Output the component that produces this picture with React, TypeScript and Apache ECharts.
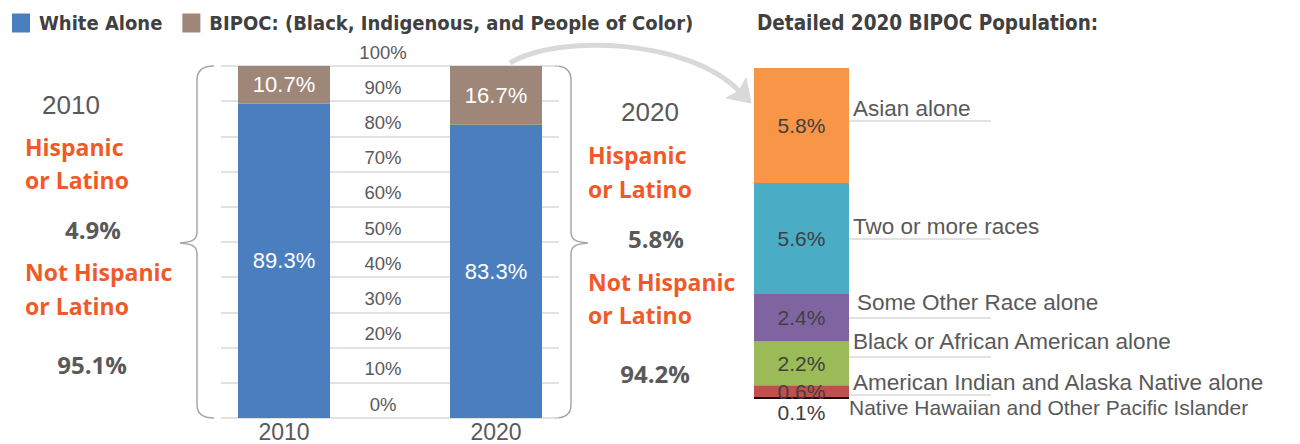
import React, { useEffect, useRef } from 'react';
import * as echarts from 'echarts';

// ---------- data ----------
const years = ['2010', '2020'];
const whiteAlone = [89.3, 83.3];
const bipoc = [10.7, 16.7];
const hispanicShare = [4.9, 5.8];
const notHispanicShare = [95.1, 94.2];

const detailCategories = [
  'Native Hawaiian and Other Pacific Islander',
  'American Indian and Alaska Native alone',
  'Black or African American alone',
  'Some Other Race alone',
  'Two or more races',
  'Asian alone',
];
const detailValues = [0.1, 0.6, 2.2, 2.4, 5.6, 5.8];
const detailTotal = 16.7;

// ---------- styles ----------
const detailColors = ['#111111', '#C0504D', '#9BBB59', '#8064A2', '#4BACC6', '#F79646'];
const BLUE = '#4A7EBF';
const BROWN = '#9E8779';
const ORANGE = '#F05A28';
const GRAY_TEXT = '#595959';
const CONDENSED = '"Liberation Sans Narrow", "DejaVu Sans Condensed", "Arial Narrow", sans-serif';
const SANS = '"Liberation Sans", Arial, sans-serif';
const BOLD_SANS = '"Open Sans", "Noto Sans", sans-serif';

echarts.graphic.registerShape(
  'leftBrace',
  echarts.graphic.extendPath(
    'M214,66 C203,66 197,70 197,80 L197,232 C197,240 192,242 180,243 C192,244 197,246 197,254 L197,405 C197,414 203,418 214,418',
    {}
  )
);
echarts.graphic.registerShape(
  'rightBrace',
  echarts.graphic.extendPath(
    'M555,66 C565,66 571,70 571,80 L571,232 C571,240 576,242 588,243 C576,244 571,246 571,254 L571,405 C571,414 565,418 555,418',
    {}
  )
);

// label placements for the detailed bar (annotation layout)
const detailLabelPos = [
  { x: 849, y: 407, size: 21, ul: null },
  { x: 853, y: 382, size: 22.5, ul: [849, 991, 395] },
  { x: 853, y: 341, size: 22.5, ul: [849, 991, 357] },
  { x: 857, y: 302, size: 22.5, ul: [849, 991, 318] },
  { x: 853, y: 226, size: 22.5, ul: [849, 991, 239] },
  { x: 853, y: 108, size: 22.5, ul: [849, 991, 121] },
];

const sideLayout = [
  { yearX: 71, yearY: 105, textX: 25, h1: 147, h2: 180, hvX: 93, hvY: 229, n1: 272, n2: 306, nvX: 92, nvY: 364 },
  { yearX: 650, yearY: 112, textX: 588, h1: 155, h2: 189, hvX: 656, hvY: 238, n1: 282, n2: 315, nvX: 655, nvY: 373 },
];

function buildGraphics() {
  const els: any[] = [];
  els.push({ type: 'leftBrace', x: 0, y: 0, silent: true, style: { stroke: '#A6A6A6', fill: null, lineWidth: 1.5 } });
  els.push({ type: 'rightBrace', x: 0, y: 0, silent: true, style: { stroke: '#A6A6A6', fill: null, lineWidth: 1.5 } });

  years.forEach((yr, i) => {
    const L = sideLayout[i];
    els.push({ type: 'text', x: L.yearX, y: L.yearY, style: { text: yr, font: `26px ${SANS}`, fill: GRAY_TEXT, align: 'center', verticalAlign: 'middle' } });
    const orange = (t: string, y: number) => ({
      type: 'text', x: L.textX, y, style: { text: t, font: `bold 23px ${BOLD_SANS}`, fill: ORANGE, align: 'left', verticalAlign: 'middle' },
    });
    els.push(orange('Hispanic', L.h1));
    els.push(orange('or Latino', L.h2));
    els.push({ type: 'text', x: L.hvX, y: L.hvY, style: { text: hispanicShare[i].toFixed(1) + '%', font: `bold 24px ${BOLD_SANS}`, fill: GRAY_TEXT, align: 'center', verticalAlign: 'middle' } });
    els.push(orange('Not Hispanic', L.n1));
    els.push(orange('or Latino', L.n2));
    els.push({ type: 'text', x: L.nvX, y: L.nvY, style: { text: notHispanicShare[i].toFixed(1) + '%', font: `bold 24px ${BOLD_SANS}`, fill: GRAY_TEXT, align: 'center', verticalAlign: 'middle' } });
  });

  // curved arrow
  els.push({
    type: 'bezierCurve', silent: true,
    shape: { x1: 510, y1: 63, cpx1: 560, cpy1: 33, cpx2: 690, cpy2: 40, x2: 739, y2: 91 },
    style: { stroke: '#D9D9D9', lineWidth: 5, fill: null },
  });
  els.push({
    type: 'polygon', silent: true,
    shape: { points: [[751, 103], [746, 78], [739, 91], [726, 98]] },
    style: { fill: '#D9D9D9', stroke: '#D9D9D9', lineWidth: 1 },
  });

  // detailed labels
  detailCategories.forEach((name, i) => {
    const p = detailLabelPos[i];
    if (p.ul) {
      els.push({ type: 'line', silent: true, shape: { x1: p.ul[0], y1: p.ul[2], x2: p.ul[1], y2: p.ul[2] }, style: { stroke: '#D9D9D9', lineWidth: 1.5 } });
    }
    els.push({ type: 'text', x: p.x, y: p.y, style: { text: name, font: `${p.size}px ${SANS}`, fill: GRAY_TEXT, align: 'left', verticalAlign: 'middle' } });
  });
  return els;
}

export default function App() {
  const ref = useRef<HTMLDivElement>(null);
  useEffect(() => {
    if (!ref.current) return;
    const chart = echarts.init(ref.current, undefined, { renderer: 'svg' });
    const detailSeries = detailCategories.map((name, i) => ({
      name,
      type: 'bar',
      stack: 'detail',
      xAxisIndex: 2,
      yAxisIndex: 2,
      barWidth: '100%',
      data: [detailValues[i]],
      itemStyle: { color: detailColors[i] },
      label: {
        show: true,
        position: i === 0 ? 'bottom' : 'inside',
        distance: 3,
        formatter: (p: any) => p.value.toFixed(1) + '%',
        color: '#404040',
        fontSize: 21,
        fontFamily: SANS,
      },
    }));
    chart.setOption({
      animation: false,
      title: {
        text: 'Detailed 2020 BIPOC Population:',
        left: 752,
        top: 7,
        textStyle: { fontFamily: CONDENSED, fontWeight: 'bold', fontSize: 20.5, color: '#404040' },
      },
      legend: {
        left: 7,
        top: 8,
        icon: 'rect',
        itemWidth: 18,
        itemHeight: 19,
        itemGap: 20,
        data: ['White Alone', 'BIPOC: (Black, Indigenous, and People of Color)'],
        textStyle: { fontFamily: CONDENSED, fontWeight: 'bold', fontSize: 20, color: '#404040', padding: [0, 0, 0, 4] },
        selectedMode: false,
      },
      grid: [
        { left: 178, top: 66, width: 424, height: 352 },
        { left: 221, top: 66, width: 338, height: 352 },
        { left: 754, top: 68, width: 95, height: 331 },
      ],
      xAxis: [
        {
          gridIndex: 0, type: 'category', data: years,
          axisLine: { show: false }, axisTick: { show: false },
          axisLabel: { color: GRAY_TEXT, fontSize: 23, fontFamily: SANS, margin: 2 },
        },
        { gridIndex: 1, type: 'value', show: false, min: 0, max: 1 },
        { gridIndex: 2, type: 'category', data: ['2020'], show: false },
      ],
      yAxis: [
        { gridIndex: 0, type: 'value', min: 0, max: 100, show: false },
        {
          gridIndex: 1, type: 'value', min: 0, max: 100, interval: 10,
          axisLine: { show: false }, axisTick: { show: false },
          splitLine: { show: true, lineStyle: { color: '#D9D9D9', width: 1.5 } },
          axisLabel: {
            inside: true, margin: 162, align: 'center', verticalAlign: 'bottom', lineHeight: 28,
            formatter: '{value}%', color: GRAY_TEXT, fontSize: 18.5, fontFamily: SANS,
          },
        },
        { gridIndex: 2, type: 'value', min: 0, max: detailTotal, show: false },
      ],
      series: [
        {
          name: 'White Alone', type: 'bar', stack: 'main', xAxisIndex: 0, yAxisIndex: 0,
          barWidth: 92, data: whiteAlone, itemStyle: { color: BLUE },
          label: { show: true, position: 'inside', formatter: (p: any) => p.value.toFixed(1) + '%', color: '#FFFFFF', fontSize: 22, fontFamily: SANS },
        },
        {
          name: 'BIPOC: (Black, Indigenous, and People of Color)', type: 'bar', stack: 'main', xAxisIndex: 0, yAxisIndex: 0,
          barWidth: 92, data: bipoc, itemStyle: { color: BROWN },
          label: { show: true, position: 'inside', formatter: (p: any) => p.value.toFixed(1) + '%', color: '#FFFFFF', fontSize: 22, fontFamily: SANS },
        },
        ...detailSeries,
      ],
      graphic: buildGraphics(),
    });
    return () => chart.dispose();
  }, []);
  return <div ref={ref} style={{ position: 'absolute', left: 0, top: 0, width: 1300, height: 444 }} />;
}
